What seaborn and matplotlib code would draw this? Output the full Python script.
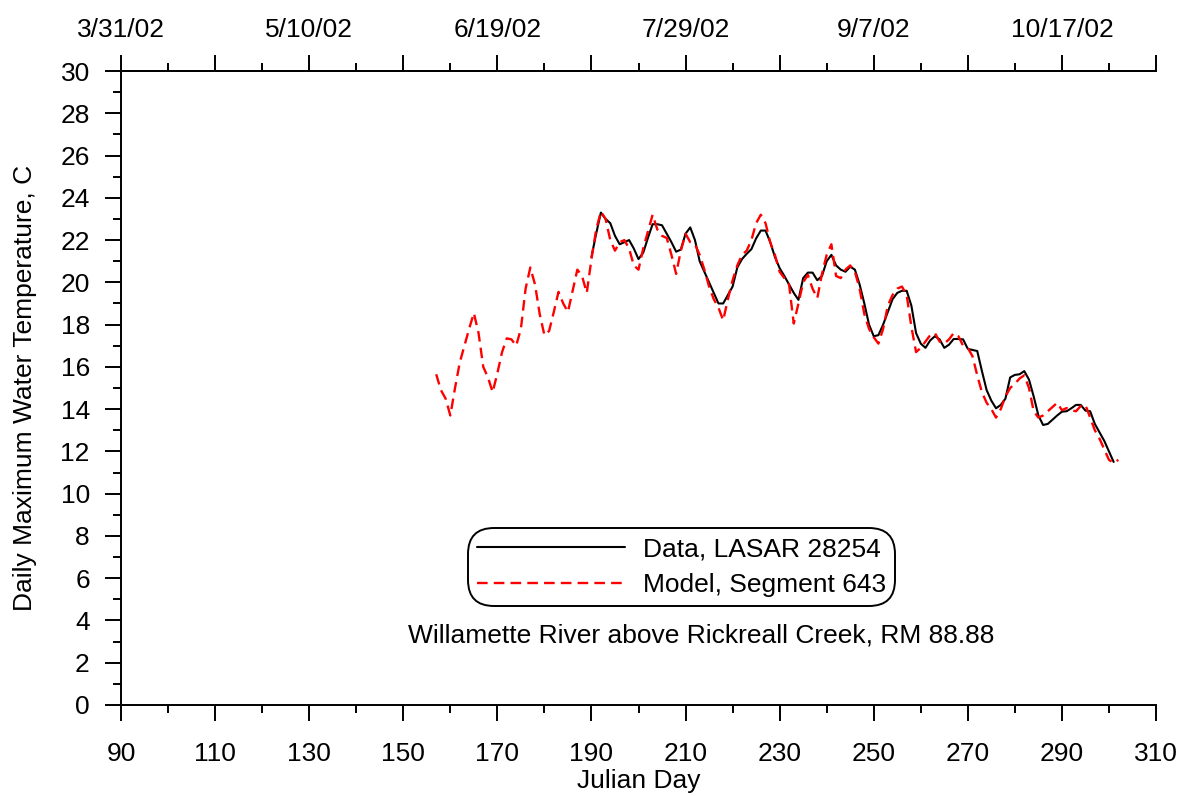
import numpy as np
import pandas as pd
import matplotlib
matplotlib.use("Agg")
import matplotlib.pyplot as plt
from matplotlib.ticker import MultipleLocator, FixedLocator, FixedFormatter
import seaborn as sns

# ---------------- data ----------------
model_days = list(range(157, 303))
model_vals = [
    15.65, 14.9, 14.5, 13.7, 15.0, 16.2, 17.0, 17.8, 18.55, 17.6,   # 157-166
    16.0, 15.5, 14.8, 15.7, 16.7, 17.35, 17.3, 17.0, 17.8, 19.7,    # 167-176
    20.7, 19.9, 18.5, 17.5, 17.7, 18.6, 19.55, 19.0, 18.6, 19.6,    # 177-186
    20.6, 20.3, 19.5, 21.1, 22.5, 23.35, 23.0, 22.0, 21.5, 21.9,    # 187-196
    22.0, 21.6, 20.8, 20.6, 21.6, 22.4, 23.2, 22.5, 22.2, 22.1,     # 197-206
    21.3, 20.4, 21.5, 22.3, 21.9, 21.8, 21.3, 20.6, 19.8, 19.2,     # 207-216
    18.8, 18.2, 19.2, 20.1, 20.8, 21.3, 21.5, 22.0, 22.8, 23.2,     # 217-226
    22.8, 21.9, 21.3, 20.5, 20.2, 19.9, 18.05, 19.0, 20.0, 20.35,   # 227-236
    19.7, 19.25, 20.4, 21.3, 21.8, 20.3, 20.2, 20.6, 20.8, 20.5,    # 237-246
    19.7, 18.5, 17.8, 17.4, 17.1, 17.8, 18.9, 19.4, 19.7, 19.8,     # 247-256
    19.4, 17.9, 16.7, 16.9, 17.2, 17.5, 17.6, 17.2, 17.1, 17.3,     # 257-266
    17.6, 17.45, 17.0, 16.9, 16.5, 15.6, 14.8, 14.3, 14.0, 13.6,    # 267-276
    14.0, 14.6, 15.0, 15.2, 15.45, 15.6, 15.0, 13.9, 13.6, 13.7,    # 277-286
    13.9, 14.1, 14.3, 13.95, 14.05, 13.95, 13.9, 14.15, 14.2, 13.6, # 287-296
    13.0, 12.6, 12.1, 11.6, 11.45, 11.6,                            # 297-302
]

data_days = list(range(190, 302))
data_vals = [
    21.2, 22.3, 23.3, 23.0, 22.8, 22.2, 21.8, 21.9, 22.0, 21.6,     # 190-199
    21.1, 21.4, 22.1, 22.75, 22.75, 22.7, 22.3, 21.9, 21.45, 21.55, # 200-209
    22.3, 22.6, 22.0, 21.0, 20.5, 20.0, 19.5, 19.0, 19.0, 19.4,     # 210-219
    19.8, 20.7, 21.1, 21.35, 21.57, 22.08, 22.45, 22.45, 21.9, 21.2,# 220-229
    20.67, 20.3, 19.9, 19.5, 19.17, 20.2, 20.46, 20.46, 20.1, 20.3, # 230-239
    21.0, 21.3, 20.8, 20.6, 20.5, 20.74, 20.6, 19.9, 19.0, 18.0,    # 240-249
    17.45, 17.5, 18.0, 18.6, 19.2, 19.5, 19.6, 19.6, 18.9, 17.6,    # 250-259
    17.1, 16.9, 17.25, 17.45, 17.3, 16.9, 17.05, 17.32, 17.32, 17.3,# 260-269
    16.85, 16.8, 16.75, 15.8, 14.9, 14.4, 14.04, 14.2, 14.5, 15.5,  # 270-279
    15.62, 15.65, 15.8, 15.4, 14.6, 13.7, 13.25, 13.3, 13.5, 13.7,  # 280-289
    13.88, 13.9, 14.04, 14.2, 14.2, 13.93, 13.9, 13.3, 12.9, 12.5,  # 290-299
    12.0, 11.5,                                                     # 300-301
]

bottom_tick_days = [90, 110, 130, 150, 170, 190, 210, 230, 250, 270, 290, 310]
top_tick_labels = ["3/31/02", "", "5/10/02", "", "6/19/02", "", "7/29/02", "",
                   "9/7/02", "", "10/17/02", ""]

data_label = "Data, LASAR 28254"
model_label = "Model, Segment 643"
site_text = "Willamette River above Rickreall Creek, RM 88.88"

# ---------------- style ----------------
sns.set_style("ticks")
plt.rcParams["font.family"] = ["Liberation Sans", "DejaVu Sans"]
plt.rcParams["text.color"] = "black"
plt.rcParams["axes.labelcolor"] = "black"
plt.rcParams["xtick.color"] = "black"
plt.rcParams["ytick.color"] = "black"
FS = 19

fig = plt.figure(figsize=(11.87, 7.96), dpi=100)
ax = fig.add_axes([121 / 1187, 1 - 705 / 796, (1156 - 121) / 1187, (705 - 71) / 796])

df_data = pd.DataFrame({"day": data_days, "temp": data_vals})
df_model = pd.DataFrame({"day": model_days, "temp": model_vals})

sns.lineplot(data=df_data, x="day", y="temp", ax=ax, color="black",
             linewidth=1.5, label=data_label)
sns.lineplot(data=df_model, x="day", y="temp", ax=ax, color="red",
             linewidth=1.7, label=model_label)
ax.lines[1].set_dashes((4.5, 2.6))

ax.set_xlim(90, 310)
ax.set_ylim(0, 30)
ax.xaxis.set_major_locator(FixedLocator(bottom_tick_days))
ax.xaxis.set_minor_locator(MultipleLocator(10))
ax.yaxis.set_major_locator(MultipleLocator(2))
ax.yaxis.set_minor_locator(MultipleLocator(1))

for s in ["left", "bottom", "top"]:
    ax.spines[s].set_visible(True)
    ax.spines[s].set_linewidth(1.4)
    ax.spines[s].set_color("black")
ax.spines["right"].set_visible(False)

ax.tick_params(axis="both", which="major", direction="out", length=11.5,
               width=1.4, labelsize=FS, colors="black", pad=11)
ax.tick_params(axis="both", which="minor", direction="out", length=6,
               width=1.4, colors="black")
ax.tick_params(axis="x", which="major", pad=15)

ax.set_xlabel("Julian Day", fontsize=FS, labelpad=2)
ax.set_ylabel("Daily Maximum Water Temperature, C", fontsize=FS, labelpad=17)

secax = ax.secondary_xaxis("top")
secax.xaxis.set_major_locator(FixedLocator(bottom_tick_days))
secax.xaxis.set_major_formatter(FixedFormatter(top_tick_labels))
secax.xaxis.set_minor_locator(MultipleLocator(10))
secax.spines["top"].set_linewidth(1.4)
secax.tick_params(axis="x", which="major", direction="out", length=11.5,
                  width=1.4, labelsize=FS, pad=9.5, colors="black")
secax.tick_params(axis="x", which="minor", direction="out", length=6, width=1.4)

leg = ax.legend(loc="upper left", bbox_to_anchor=(468 / 1187, 1 - 528 / 796),
                bbox_transform=fig.transFigure, fontsize=FS, frameon=True,
                fancybox=True, edgecolor="black", framealpha=1,
                handlelength=5.6, handletextpad=0.68, borderpad=0.35,
                labelspacing=0.45, borderaxespad=0)
leg.get_frame().set_linewidth(1.4)
leg.get_frame().set_boxstyle("round", pad=0, rounding_size=1.0)
for t in leg.get_texts():
    t.set_color("black")

ax.text(701 / 1187, 1 - 636 / 796, site_text,
        transform=fig.transFigure, fontsize=FS, ha="center", va="center")

fig.savefig("out.png", dpi=100)
